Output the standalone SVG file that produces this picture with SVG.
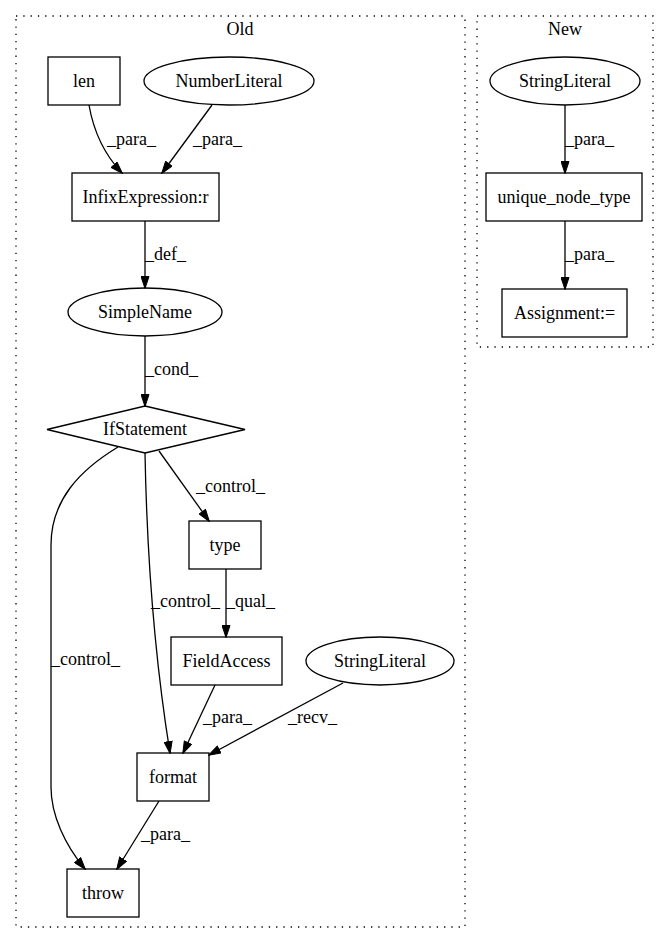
<svg xmlns="http://www.w3.org/2000/svg" width="668" height="944" viewBox="0 0 668 944">
<style>
text{font-family:"Liberation Serif","Times New Roman",serif;font-size:18px;fill:#000}
.n{fill:none;stroke:#000;stroke-width:1.3}
.c{fill:none;stroke:#000;stroke-width:1.3;stroke-dasharray:1.3,6}
.e{fill:none;stroke:#000;stroke-width:1.3;marker-end:url(#ah)}
.m{text-anchor:middle}
</style>
<defs>
<marker id="ah" viewBox="0 0 13 9" refX="12" refY="4.5" markerWidth="13" markerHeight="9" markerUnits="userSpaceOnUse" orient="auto">
<path d="M0.5,0.5 L12.5,4.5 L0.5,8.5 Z" fill="#000" stroke="#000" stroke-width="1"/>
</marker>
</defs>
<rect width="668" height="944" fill="#fff"/>
<g id="cluster_old">
<rect class="c" x="16" y="16" width="449" height="911"/>
<text class="m" x="240" y="35">Old</text>
</g>
<g id="cluster_new">
<rect class="c" x="477" y="16" width="176" height="331"/>
<text class="m" x="565" y="35">New</text>
</g>
<g id="edges">
<path class="e" d="M89,105 C93,128 102,152 122,173"/>
<text x="107" y="145">_para_</text>
<path class="e" d="M212,105 L162,173"/>
<text x="193" y="145">_para_</text>
<path class="e" d="M145,221 L145,288"/>
<text x="145" y="260">_def_</text>
<path class="e" d="M145,336 L145,406"/>
<text x="145" y="375">_cond_</text>
<path class="e" d="M159,451 L209,521"/>
<text x="196" y="492">_control_</text>
<path class="e" d="M118,447 C80,470 51,500 51,545 L51,787 C51,815 65,845 85,869"/>
<text x="51" y="665">_control_</text>
<path class="e" d="M145,453 C147,560 155,660 170,753"/>
<text x="151" y="607">_control_</text>
<path class="e" d="M226,569 L226,637"/>
<text x="226" y="607">_qual_</text>
<path class="e" d="M215,685 L183,753"/>
<text x="203" y="723">_para_</text>
<path class="e" d="M343,683 L209,755"/>
<text x="288" y="723">_recv_</text>
<path class="e" d="M159,801 L117,869"/>
<text x="141" y="840">_para_</text>
<path class="e" d="M565,105 L565,173"/>
<text x="565" y="145">_para_</text>
<path class="e" d="M565,221 L565,289"/>
<text x="565" y="260">_para_</text>
</g>
<g id="len"><rect class="n" x="48" y="57" width="72" height="48"/><text class="m" x="84" y="87">len</text></g>
<g id="numberliteral"><ellipse class="n" cx="229" cy="81" rx="85" ry="24"/><text class="m" x="229" y="87">NumberLiteral</text></g>
<g id="infix"><rect class="n" x="72" y="173" width="147" height="48"/><text class="m" x="145.5" y="203">InfixExpression:r</text></g>
<g id="simplename"><ellipse class="n" cx="145" cy="312" rx="77" ry="24"/><text class="m" x="145" y="318">SimpleName</text></g>
<g id="ifstatement"><polygon class="n" points="145,406 245,429.5 145,453 47,429.5"/><text class="m" x="145" y="435">IfStatement</text></g>
<g id="type"><rect class="n" x="189" y="521" width="72" height="48"/><text class="m" x="225" y="551">type</text></g>
<g id="fieldaccess"><rect class="n" x="171" y="637" width="111" height="48"/><text class="m" x="226.5" y="667">FieldAccess</text></g>
<g id="stringliteral_old"><ellipse class="n" cx="380" cy="661" rx="74" ry="24"/><text class="m" x="380" y="667">StringLiteral</text></g>
<g id="format"><rect class="n" x="137" y="753" width="72" height="48"/><text class="m" x="173" y="783">format</text></g>
<g id="throw"><rect class="n" x="67" y="869" width="72" height="48"/><text class="m" x="103" y="899">throw</text></g>
<g id="stringliteral_new"><ellipse class="n" cx="565" cy="81" rx="75" ry="24"/><text class="m" x="565" y="87">StringLiteral</text></g>
<g id="unique_node_type"><rect class="n" x="486" y="173" width="156" height="48"/><text class="m" x="564" y="203">unique_node_type</text></g>
<g id="assignment"><rect class="n" x="502" y="289" width="125" height="48"/><text class="m" x="564.5" y="319">Assignment:=</text></g>
</svg>
